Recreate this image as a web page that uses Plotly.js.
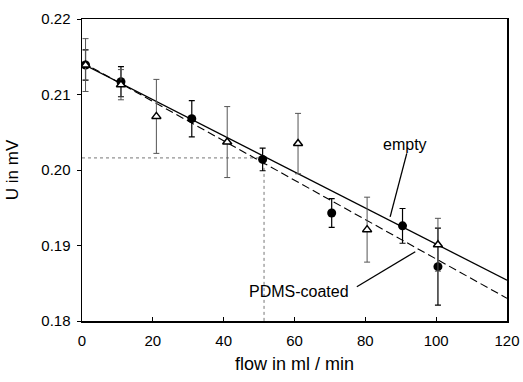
<!DOCTYPE html>
<html>
<head>
<meta charset="utf-8">
<script src="https://cdn.plot.ly/plotly-3.0.1.min.js"></script>
<style>html,body{margin:0;padding:0;background:#fff;}#chart{width:523px;height:382px;}</style>
</head>
<body>
<div id="chart"></div>
<script>
// Filled circles (PDMS-coated)
const circleFlow = [1, 11, 31, 51, 70.5, 90.5, 100.5];
const circleU    = [0.2139, 0.2117, 0.2068, 0.2014, 0.1943, 0.1926, 0.1872];
const circleErr  = [0.0020, 0.0020, 0.0024, 0.0015, 0.0019, 0.0023, 0.0051];
// Open triangles (empty)
const triFlow = [1, 11, 21, 41, 61, 80.5, 100.5];
const triU    = [0.2139, 0.2113, 0.2071, 0.2037, 0.2035, 0.1921, 0.1901];
const triErr  = [0.0035, 0.0020, 0.0049, 0.0047, 0.0040, 0.0043, 0.0035];
// Fitted lines
const fitFlow  = [0, 120];
const emptyFit = [0.2141, 0.1854];
const pdmsFit  = [0.2143, 0.1830];
// Dotted reading guide
const guideFlow = [0, 51.4, 51.4];
const guideU    = [0.2016, 0.2016, 0.18];
// Axis ticks
const xTicks = [0, 20, 40, 60, 80, 100, 120];
const yTicks = [0.18, 0.19, 0.20, 0.21, 0.22];
const yTickText = ['0.18', '0.19', '0.20', '0.21', '0.22'];

const font = {family: 'Liberation Sans, Arial, sans-serif', color: '#000'};

const traces = [
  {x: guideFlow, y: guideU, mode: 'lines', line: {color: '#777', width: 1, dash: 'dot'}, hoverinfo: 'skip', showlegend: false},
  {x: fitFlow, y: emptyFit, mode: 'lines', line: {color: '#000', width: 1.3}, showlegend: false},
  {x: fitFlow, y: pdmsFit, mode: 'lines', line: {color: '#000', width: 1.1, dash: '8px,4px'}, showlegend: false},
  {x: circleFlow, y: circleU, mode: 'markers', marker: {symbol: 'circle', size: 9, color: '#000'},
   error_y: {type: 'data', array: circleErr, visible: true, color: '#000', thickness: 1.2, width: 3}, showlegend: false},
  {x: triFlow, y: triU, mode: 'markers', marker: {symbol: 'triangle-up', size: 8, color: '#fff', line: {color: '#000', width: 1.5}},
   error_y: {type: 'data', array: triErr, visible: true, color: '#555', thickness: 1, width: 3}, showlegend: false}
];

const layout = {
  width: 523, height: 382,
  margin: {l: 82, r: 16, t: 19, b: 61},
  paper_bgcolor: '#fff', plot_bgcolor: '#fff',
  font: font,
  showlegend: false,
  xaxis: {
    range: [0, 120], tickvals: xTicks, ticks: 'inside', ticklen: 4, tickcolor: '#000', ticklabelstandoff: 5,
    showgrid: false, zeroline: false, showline: true, linecolor: '#000', linewidth: 1.5, mirror: true,
    tickfont: {size: 15, family: font.family, color: '#000'},
    title: {text: 'flow in ml / min', font: {size: 18, family: font.family, color: '#000'}, standoff: 10}
  },
  yaxis: {
    range: [0.18, 0.22], tickvals: yTicks, ticktext: yTickText, ticks: 'outside', ticklen: 4, tickcolor: '#000', ticklabelstandoff: 3,
    showgrid: false, zeroline: false, showline: true, linecolor: '#000', linewidth: 1.5, mirror: true,
    tickfont: {size: 15, family: font.family, color: '#000'},
    title: {text: 'U in mV', font: {size: 17, family: font.family, color: '#000'}, standoff: 18}
  },
  yaxis2: {
    overlaying: 'y', side: 'left', range: [0.18, 0.22], tickvals: yTicks, ticks: 'inside', ticklen: 4,
    tickcolor: '#000', showticklabels: false, showgrid: false, zeroline: false, showline: false
  },
  shapes: [
    {type: 'line', xref: 'x', yref: 'y', x0: 91.7, y0: 0.2022, x1: 87.0, y1: 0.1938, line: {color: '#000', width: 1.3}},
    {type: 'line', xref: 'x', yref: 'y', x0: 77.6, y0: 0.18454, x1: 94.1, y1: 0.18918, line: {color: '#000', width: 1.3}}
  ],
  annotations: [
    {x: 91.2, y: 0.2034, xref: 'x', yref: 'y', text: 'empty', showarrow: false, font: {size: 16, family: font.family, color: '#000'}},
    {x: 61.2, y: 0.1839, xref: 'x', yref: 'y', text: 'PDMS-coated', showarrow: false, font: {size: 16, family: font.family, color: '#000'}}
  ]
};

Plotly.newPlot('chart', traces, layout, {displayModeBar: false, staticPlot: true});
</script>
</body>
</html>
